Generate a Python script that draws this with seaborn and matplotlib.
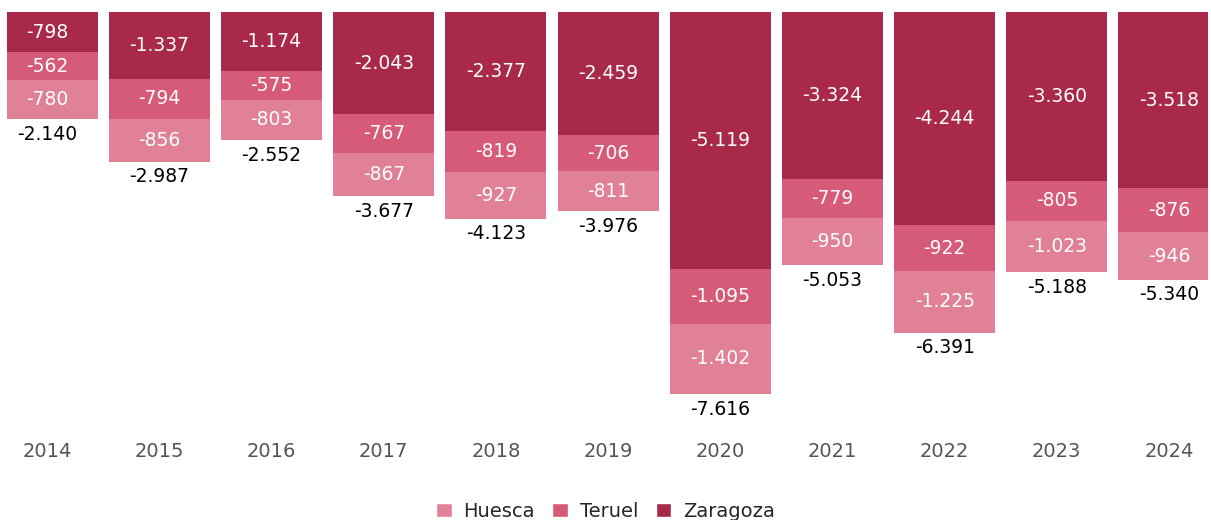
import numpy as np
import pandas as pd
import seaborn as sns
import matplotlib.pyplot as plt
from matplotlib.patches import Patch

years = ["2014", "2015", "2016", "2017", "2018", "2019", "2020", "2021", "2022", "2023", "2024"]
zaragoza = [-798, -1337, -1174, -2043, -2377, -2459, -5119, -3324, -4244, -3360, -3518]
teruel = [-562, -794, -575, -767, -819, -706, -1095, -779, -922, -805, -876]
huesca = [-780, -856, -803, -867, -927, -811, -1402, -950, -1225, -1023, -946]

colors = {"Huesca": "#e08198", "Teruel": "#d65b78", "Zaragoza": "#a8294a"}


def fmt(v):
    return f"{v:,}".replace(",", ".")


df = pd.DataFrame({"year": years, "Zaragoza": zaragoza, "Teruel": teruel, "Huesca": huesca})
df["c_zar"] = df["Zaragoza"]
df["c_ter"] = df["Zaragoza"] + df["Teruel"]
df["c_hue"] = df["c_ter"] + df["Huesca"]

sns.set_style("white")
plt.rcParams["font.family"] = ["DejaVu Sans"]
fig = plt.figure(figsize=(12.11, 5.2), dpi=100)
ax = fig.add_axes([7 / 1211, 100 / 520, 1201 / 1211, 408 / 520])

# stacked bars drawn as cumulative layers, biggest first
for col, name in [("c_hue", "Huesca"), ("c_ter", "Teruel"), ("c_zar", "Zaragoza")]:
    sns.barplot(data=df, x="year", y=col, color=colors[name], width=0.9,
                saturation=1, linewidth=0, ax=ax)

for i, row in df.iterrows():
    lo = 0
    for name in ["Zaragoza", "Teruel", "Huesca"]:
        v = row[name]
        ax.text(i, lo + v / 2, fmt(v), ha="center", va="center",
                color="white", fontsize=13.5)
        lo += v
    ax.text(i, lo - 110, fmt(int(lo)), ha="center", va="top",
            color="black", fontsize=13.5)

ax.set_ylim(-8134, 0)
ax.set_xlim(-0.359, 10.348)
ax.set_xlabel("")
ax.set_ylabel("")
ax.set_yticks([])
ax.tick_params(axis="x", length=0, pad=16, labelsize=14, labelcolor="#555555")
for s in ax.spines.values():
    s.set_visible(False)

handles = [Patch(facecolor=colors[n], label=n) for n in ["Huesca", "Teruel", "Zaragoza"]]
fig.legend(handles=handles, loc="lower center", bbox_to_anchor=(0.5, -0.035), ncol=3,
           frameon=False, fontsize=14, handlelength=0.8, handleheight=0.8,
           columnspacing=0.9, handletextpad=0.6)

plt.savefig("out.png", dpi=100)
